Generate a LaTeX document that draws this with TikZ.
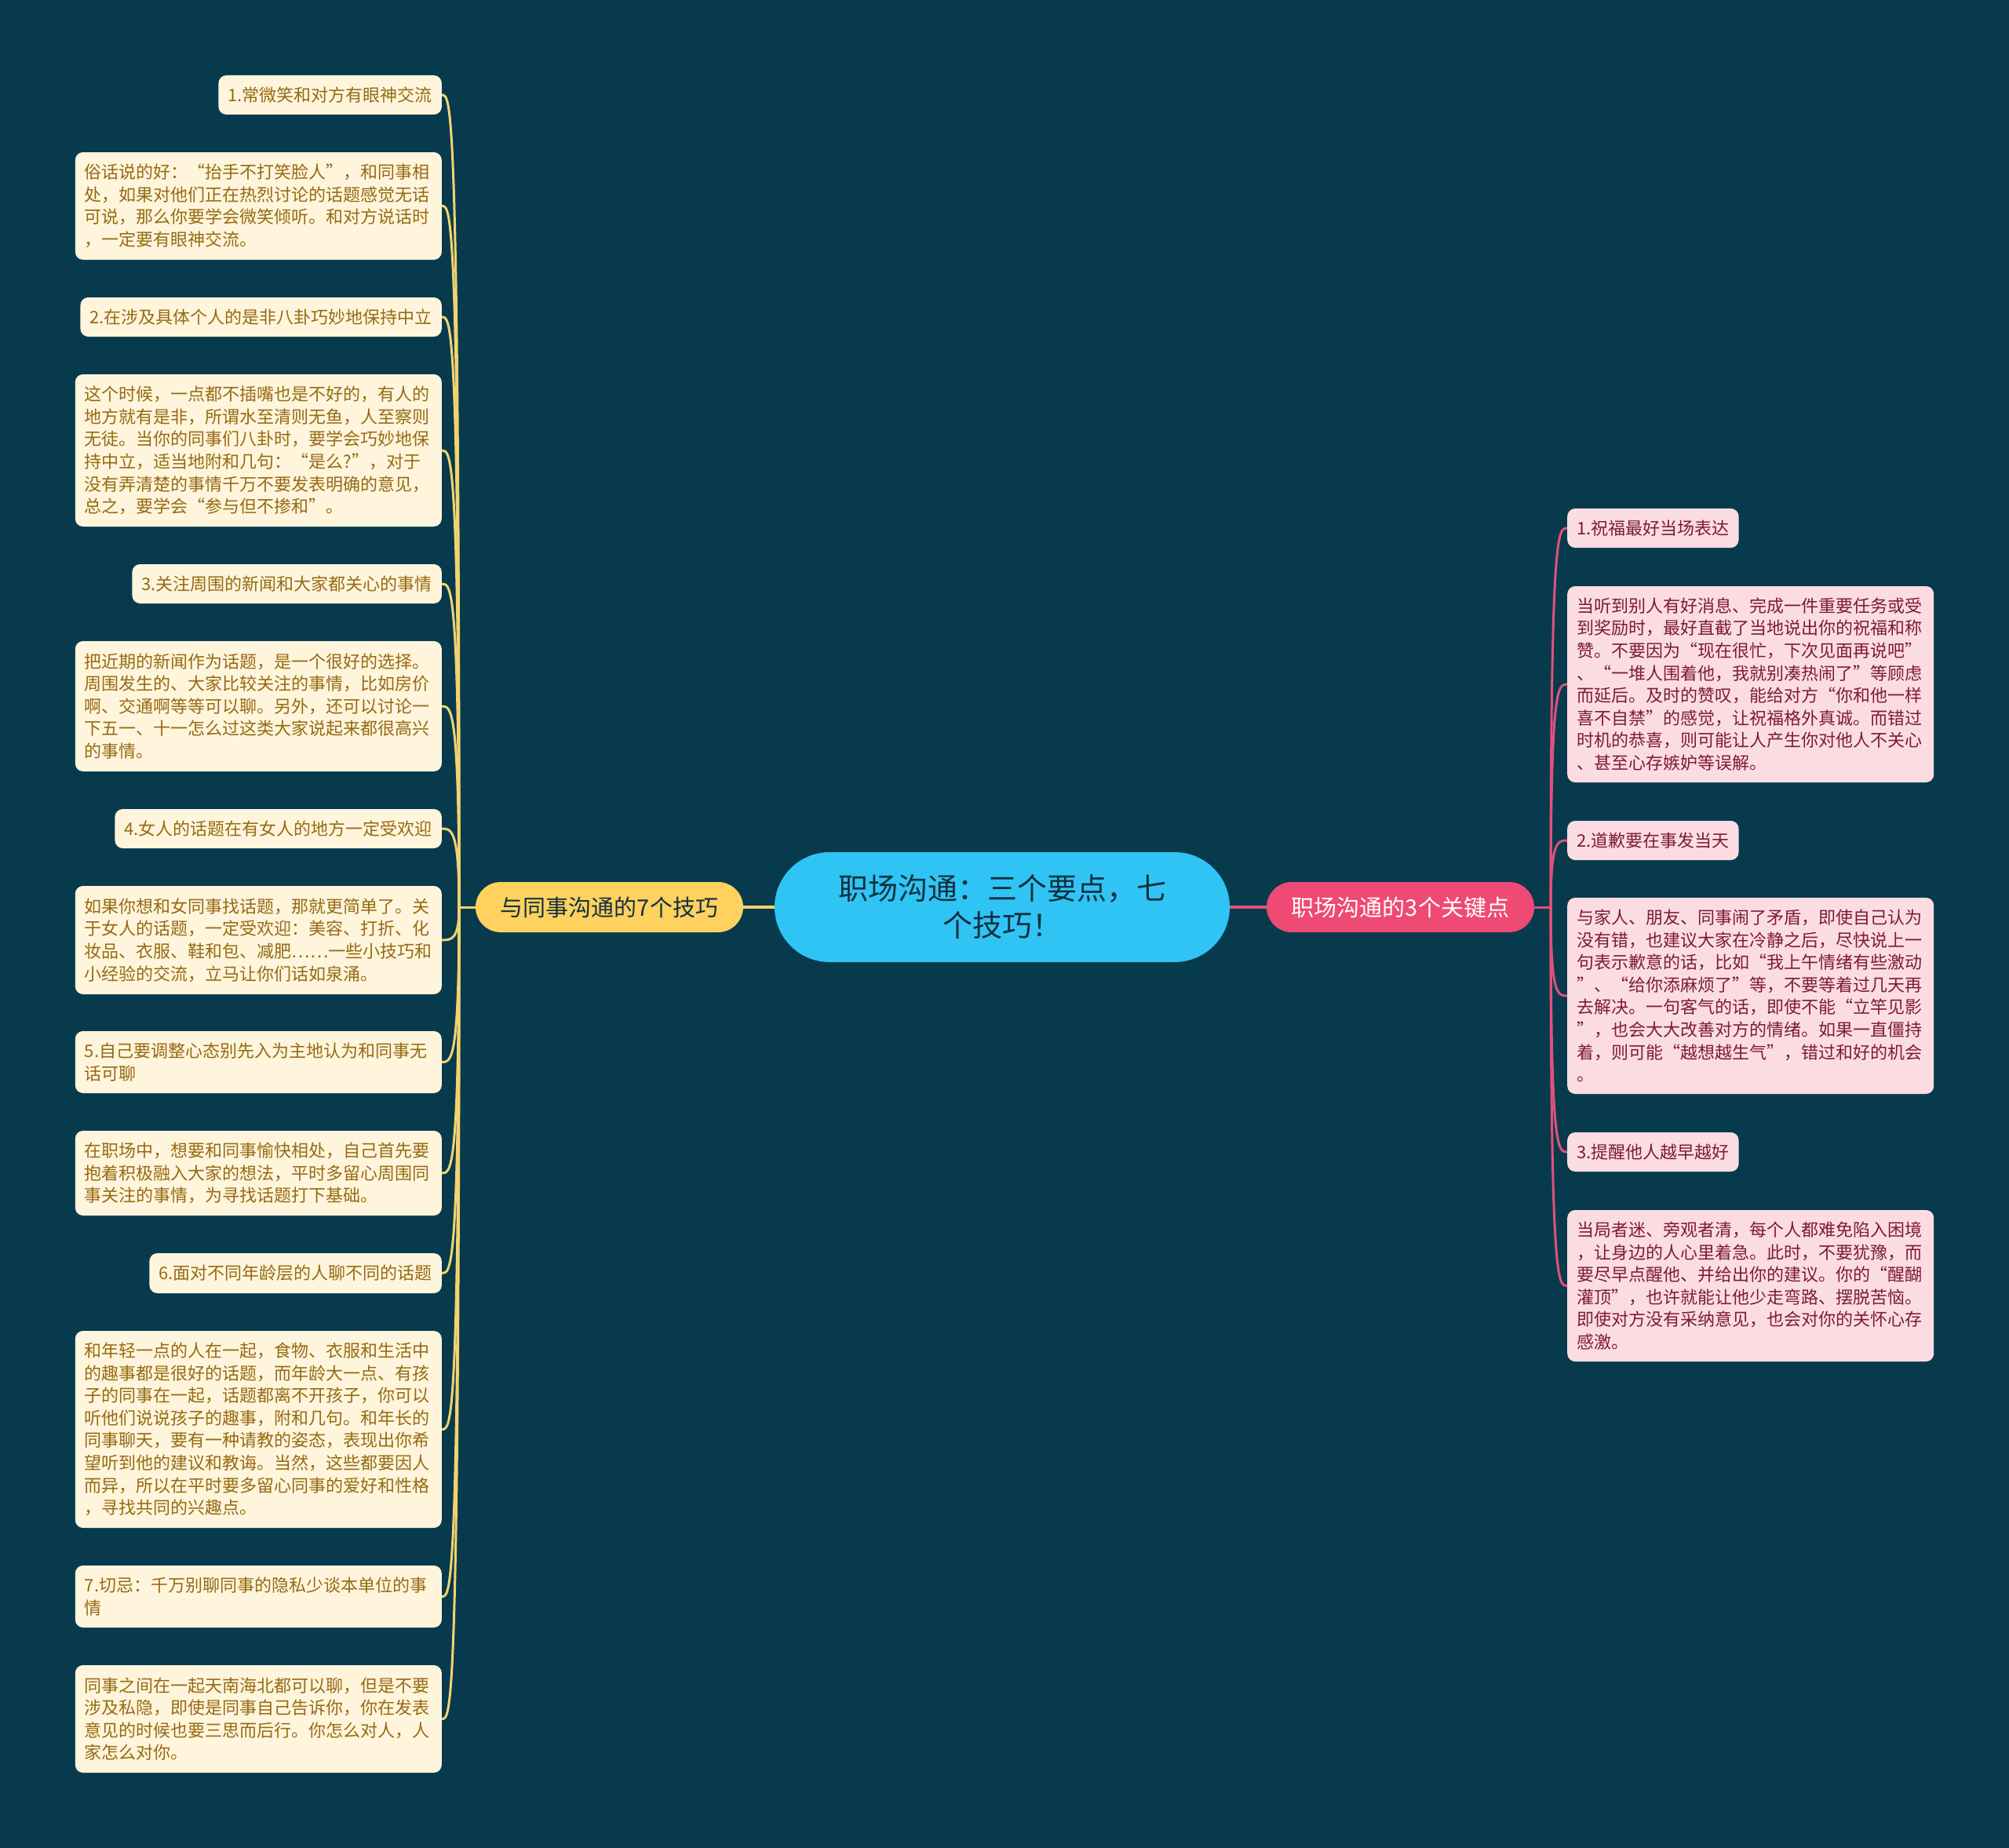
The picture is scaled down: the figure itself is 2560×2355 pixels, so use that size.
\documentclass[tikz,border=0pt]{standalone}
\usepackage{fontspec}
\setmainfont{Noto Sans CJK SC}
\definecolor{bg}{HTML}{083A4D}
\definecolor{centerfill}{HTML}{30C4F4}
\definecolor{centertext}{HTML}{12303F}
\definecolor{yellowfill}{HTML}{FFD15F}
\definecolor{pinkfill}{HTML}{EE4A73}
\definecolor{creamfill}{HTML}{FFF5DC}
\definecolor{creamtext}{HTML}{966A12}
\definecolor{rosefill}{HTML}{FCDCE3}
\definecolor{rosetext}{HTML}{7C1B36}
\definecolor{lineY}{HTML}{F3D36F}
\definecolor{lineP}{HTML}{E0517A}
\tikzset{
  leafbase/.style={rounded corners=10pt, inner xsep=12pt, inner ysep=3pt, align=left,
    font=\fontsize{22pt}{28.6pt}\selectfont},
  leafL/.style={leafbase, fill=creamfill, text=creamtext, anchor=east},
  paraL/.style={leafL, text width=443pt},
  leafR/.style={leafbase, fill=rosefill, text=rosetext, anchor=west},
  paraR/.style={leafR, text width=443pt},
  conL/.style={lineY, line width=3pt},
  conR/.style={lineP, line width=3pt},
  branchbox/.style={rounded corners=32pt, minimum width=341pt, minimum height=64pt,
    inner sep=0pt, font=\fontsize{29pt}{35pt}\selectfont},
}
\begin{document}
\begin{tikzpicture}[x=1pt,y=-1pt]
\fill[bg] (0,0) rectangle (2560,2355);
\useasboundingbox (0,0) rectangle (2560,2355);

% central and branches
\node[fill=centerfill, text=centertext, rounded corners=70pt, minimum width=580pt,
  minimum height=140pt, inner sep=0pt, align=center,
  font=\fontsize{38pt}{47pt}\selectfont] (c) at (1277,1156) {职场沟通：三个要点，七\\个技巧！};
\node[branchbox, fill=yellowfill, text=centertext] (bL) at (776.5,1156) {与同事沟通的7个技巧};
\node[branchbox, fill=pinkfill, text=white] (bR) at (1784.5,1156) {职场沟通的3个关键点};

\coordinate (jL) at (585,1156);
\coordinate (jR) at (1976,1156);

% left leaves
\node[leafL, minimum height=50pt] (t1) at (563,121) {1.常微笑和对方有眼神交流};
\node[paraL, minimum height=137pt] (p1) at (563,262.5) {俗话说的好：“抬手不打笑脸人”，和同事相\\处，如果对他们正在热烈讨论的话题感觉无话\\可说，那么你要学会微笑倾听。和对方说话时\\，一定要有眼神交流。};
\node[leafL, minimum height=50pt] (t2) at (563,404) {2.在涉及具体个人的是非八卦巧妙地保持中立};
\node[paraL, minimum height=194pt] (p2) at (563,574) {这个时候，一点都不插嘴也是不好的，有人的\\地方就有是非，所谓水至清则无鱼，人至察则\\无徒。当你的同事们八卦时，要学会巧妙地保\\持中立，适当地附和几句：“是么?”，对于\\没有弄清楚的事情千万不要发表明确的意见，\\总之，要学会“参与但不掺和”。};
\node[leafL, minimum height=50pt] (t3) at (563,744) {3.关注周围的新闻和大家都关心的事情};
\node[paraL, minimum height=166pt] (p3) at (563,900) {把近期的新闻作为话题，是一个很好的选择。\\周围发生的、大家比较关注的事情，比如房价\\啊、交通啊等等可以聊。另外，还可以讨论一\\下五一、十一怎么过这类大家说起来都很高兴\\的事情。};
\node[leafL, minimum height=50pt] (t4) at (563,1056) {4.女人的话题在有女人的地方一定受欢迎};
\node[paraL, minimum height=138pt] (p4) at (563,1198) {如果你想和女同事找话题，那就更简单了。关\\于女人的话题，一定受欢迎：美容、打折、化\\妆品、衣服、鞋和包、减肥……一些小技巧和\\小经验的交流，立马让你们话如泉涌。};
\node[paraL, minimum height=79pt] (t5) at (563,1353.5) {5.自己要调整心态别先入为主地认为和同事无\\话可聊};
\node[paraL, minimum height=108pt] (p5) at (563,1495) {在职场中，想要和同事愉快相处，自己首先要\\抱着积极融入大家的想法，平时多留心周围同\\事关注的事情，为寻找话题打下基础。};
\node[leafL, minimum height=51pt] (t6) at (563,1622.5) {6.面对不同年龄层的人聊不同的话题};
\node[paraL, minimum height=251pt] (p6) at (563,1821.5) {和年轻一点的人在一起，食物、衣服和生活中\\的趣事都是很好的话题，而年龄大一点、有孩\\子的同事在一起，话题都离不开孩子，你可以\\听他们说说孩子的趣事，附和几句。和年长的\\同事聊天，要有一种请教的姿态，表现出你希\\望听到他的建议和教诲。当然，这些都要因人\\而异，所以在平时要多留心同事的爱好和性格\\，寻找共同的兴趣点。};
\node[paraL, minimum height=79pt] (t7) at (563,2034.5) {7.切忌：千万别聊同事的隐私少谈本单位的事\\情};
\node[paraL, minimum height=137pt] (p7) at (563,2190.5) {同事之间在一起天南海北都可以聊，但是不要\\涉及私隐，即使是同事自己告诉你，你在发表\\意见的时候也要三思而后行。你怎么对人，人\\家怎么对你。};

% right leaves
\node[leafR, minimum height=50pt] (r1) at (1997,673) {1.祝福最好当场表达};
\node[paraR, minimum height=250pt] (q1) at (1997,872) {当听到别人有好消息、完成一件重要任务或受\\到奖励时，最好直截了当地说出你的祝福和称\\赞。不要因为“现在很忙，下次见面再说吧”\\、“一堆人围着他，我就别凑热闹了”等顾虑\\而延后。及时的赞叹，能给对方“你和他一样\\喜不自禁”的感觉，让祝福格外真诚。而错过\\时机的恭喜，则可能让人产生你对他人不关心\\、甚至心存嫉妒等误解。};
\node[leafR, minimum height=50pt] (r2) at (1997,1071) {2.道歉要在事发当天};
\node[paraR, minimum height=250pt] (q2) at (1997,1269) {与家人、朋友、同事闹了矛盾，即使自己认为\\没有错，也建议大家在冷静之后，尽快说上一\\句表示歉意的话，比如“我上午情绪有些激动\\”、“给你添麻烦了”等，不要等着过几天再\\去解决。一句客气的话，即使不能“立竿见影\\”，也会大大改善对方的情绪。如果一直僵持\\着，则可能“越想越生气”，错过和好的机会\\。};
\node[leafR, minimum height=50pt] (r3) at (1997,1468) {3.提醒他人越早越好};
\node[paraR, minimum height=193pt] (q3) at (1997,1638.5) {当局者迷、旁观者清，每个人都难免陷入困境\\，让身边的人心里着急。此时，不要犹豫，而\\要尽早点醒他、并给出你的建议。你的“醒醐\\灌顶”，也许就能让他少走弯路、摆脱苦恼。\\即使对方没有采纳意见，也会对你的关怀心存\\感激。};

% connectors
\draw[lineY, line width=4pt] (c.west) -- (bL.east);
\draw[lineP, line width=4pt] (c.east) -- (bR.west);
\draw[conL] (bL.west) -- (jL);
\draw[conR] (bR.east) -- (jR);
\foreach \n in {t1,p1,t2,p2,t3,p3,t4,p4,t5,p5,t6,p6,t7,p7}{
  \draw[conL] (jL) .. controls (jL |- \n.east) and ([xshift=12pt]\n.east) .. (\n.east);
}
\foreach \n in {r1,q1,r2,q2,r3,q3}{
  \draw[conR] (jR) .. controls (jR |- \n.west) and ([xshift=-12pt]\n.west) .. (\n.west);
}
\end{tikzpicture}
\end{document}
